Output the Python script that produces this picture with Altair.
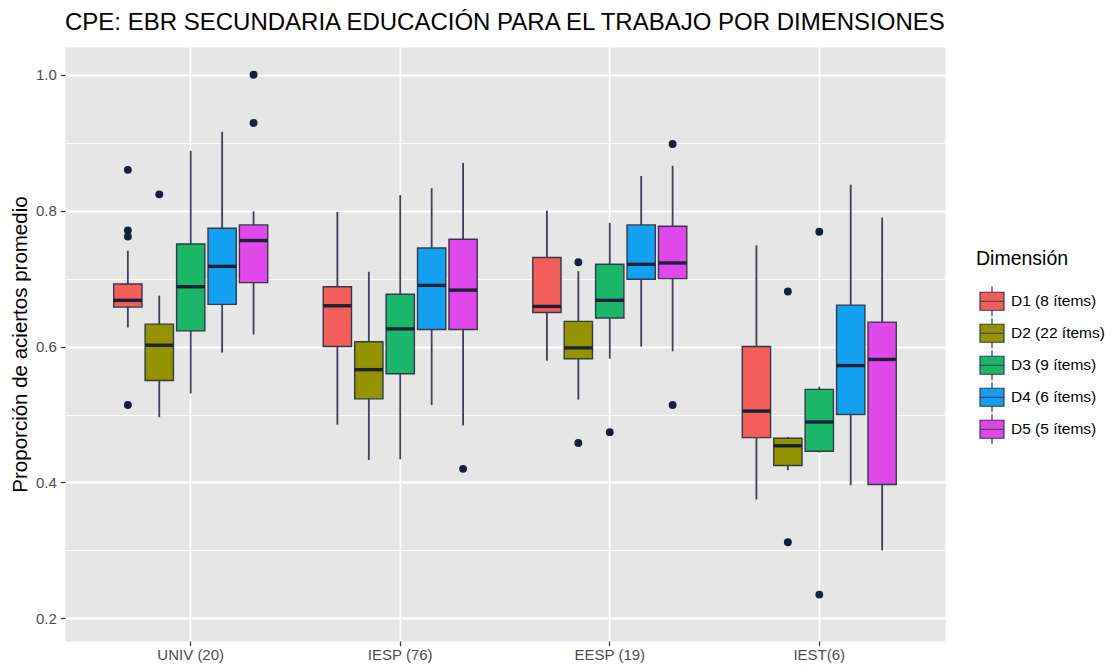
import altair as alt
import pandas as pd

groups = ["UNIV (20)", "IESP (76)", "EESP (19)", "IEST(6)"]
dims = ["D1 (8 ítems)", "D2 (22 ítems)", "D3 (9 ítems)", "D4 (6 ítems)", "D5 (5 ítems)"]
colors = ["#F35E5A", "#949400", "#1CB66A", "#14A0F0", "#E048EC"]

# per group, per dimension (D1..D5)
whisker_low = [0.628, 0.496, 0.531, 0.591, 0.618,
               0.485, 0.433, 0.434, 0.514, 0.484,
               0.579, 0.522, 0.582, 0.600, 0.593,
               0.375, 0.418, 0.444, 0.396, 0.300]
q1 = [0.658, 0.550, 0.623, 0.662, 0.694,
      0.600, 0.523, 0.560, 0.625, 0.625,
      0.650, 0.582, 0.642, 0.699, 0.700,
      0.466, 0.425, 0.446, 0.500, 0.397]
median = [0.668, 0.602, 0.688, 0.718, 0.756,
          0.660, 0.566, 0.626, 0.690, 0.683,
          0.659, 0.598, 0.668, 0.721, 0.723,
          0.505, 0.454, 0.489, 0.572, 0.581]
q3 = [0.692, 0.633, 0.751, 0.774, 0.779,
      0.688, 0.607, 0.677, 0.745, 0.758,
      0.731, 0.637, 0.721, 0.779, 0.777,
      0.600, 0.465, 0.537, 0.661, 0.636]
whisker_high = [0.741, 0.675, 0.888, 0.916, 0.799,
                0.798, 0.710, 0.823, 0.833, 0.870,
                0.800, 0.711, 0.782, 0.851, 0.866,
                0.749, 0.467, 0.541, 0.838, 0.790]

outlier_group = ["UNIV (20)"] * 7 + ["IESP (76)"] + ["EESP (19)"] * 5 + ["IEST(6)"] * 4
outlier_dim = [dims[0], dims[0], dims[0], dims[0], dims[1], dims[4], dims[4],
               dims[4],
               dims[1], dims[1], dims[2], dims[4], dims[4],
               dims[1], dims[1], dims[2], dims[2]]
outlier_value = [0.860, 0.771, 0.762, 0.514, 0.824, 1.000, 0.929,
                 0.420,
                 0.724, 0.458, 0.474, 0.898, 0.514,
                 0.681, 0.312, 0.769, 0.235]

rows = []
for i in range(len(q1)):
    rows.append({
        "group": groups[i // 5], "dim": dims[i % 5],
        "lo": whisker_low[i], "q1": q1[i], "med": median[i],
        "q3": q3[i], "hi": whisker_high[i],
    })
box = pd.DataFrame(rows)
out = pd.DataFrame({"group": outlier_group, "dim": outlier_dim, "v": outlier_value})

FONT = "Liberation Sans"
major = "round(datum.value*10) % 2 == 0"

x_enc = alt.X(
    "group:N",
    sort=groups,
    scale=alt.Scale(domain=groups, paddingInner=0.25, paddingOuter=0.225),
    axis=alt.Axis(
        title=None, labelFontSize=15, labelColor="#4D4D4D", labelFont=FONT,
        tickSize=4.7, tickWidth=1.2, tickColor="#333333", labelPadding=2,
        domain=False, grid=True, gridColor="white", gridWidth=1.8,
        bandPosition=0.5, labelAngle=0,
    ),
)
xoff = alt.XOffset("dim:N", scale=alt.Scale(domain=dims, paddingInner=0.1, paddingOuter=0.05))
y_scale = alt.Scale(domain=[0.1667, 1.0408], nice=False, zero=False)
y_axis = alt.Axis(
    values=[0.2, 0.3, 0.4, 0.5, 0.6, 0.7, 0.8, 0.9, 1.0],
    labelExpr=f"{major} ? format(datum.value, '.1f') : ''",
    title="Proporción de aciertos promedio",
    titleFontSize=20.5, titleFontWeight="normal", titleColor="black", titleFont=FONT,
    titleX=-45, titleY=297, titleBaseline="middle", titleAlign="center", titleAngle=-90,
    labelFontSize=15, labelColor="#4D4D4D", labelFont=FONT, labelPadding=4,
    tickSize=4.7, tickWidth=1.2,
    tickColor={"condition": {"test": major, "value": "#333333"}, "value": "transparent"},
    domain=False, grid=True, gridColor="white",
    gridWidth={"condition": {"test": major, "value": 1.8}, "value": 0.9},
)

whiskers = alt.Chart(box).mark_rule(color="#3A4254", strokeWidth=1.8).encode(
    x=x_enc, xOffset=xoff,
    y=alt.Y("lo:Q", scale=y_scale, axis=y_axis),
    y2="hi:Q",
)

legend_path = "M-0.8,-0.6H0.8V0.6H-0.8Z M-0.8,0H0.8 M0,-0.6V-1 M0,0.6V1"
boxes = alt.Chart(box).mark_bar(stroke="#333A4A", strokeWidth=1.4, opacity=1).encode(
    x=x_enc, xOffset=xoff,
    y=alt.Y("q1:Q", scale=y_scale),
    y2="q3:Q",
    color=alt.Color(
        "dim:N",
        scale=alt.Scale(domain=dims, range=colors),
        legend=alt.Legend(
            title="Dimensión", orient="none", legendX=911, legendY=203,
            titleFontSize=19.5, titleFontWeight="normal", titleColor="black", titleFont=FONT,
            labelFontSize=15.5, labelColor="black", labelFont=FONT,
            symbolType=legend_path, symbolSize=900,
            symbolStrokeColor="#333A4A", symbolStrokeWidth=1.2, symbolOpacity=1,
            rowPadding=0, clipHeight=31.5, labelOffset=3, titlePadding=16,
        ),
    ),
)

medians = alt.Chart(box).mark_tick(color="#1B2238", size=28.3, thickness=3.4, opacity=1).encode(
    x=x_enc, xOffset=xoff,
    y=alt.Y("med:Q", scale=y_scale),
)

outliers = alt.Chart(out).mark_circle(color="#16203A", size=62, opacity=1).encode(
    x=x_enc, xOffset=xoff,
    y=alt.Y("v:Q", scale=y_scale),
)

chart = alt.layer(whiskers, boxes, medians, outliers).properties(
    width=880, height=594,
    title=alt.Title(
        "CPE: EBR SECUNDARIA EDUCACIÓN PARA EL TRABAJO POR DIMENSIONES",
        anchor="start", frame="group", fontSize=24, font=FONT,
        fontWeight="normal", color="black", baseline="alphabetic", offset=16, dy=23,
    ),
    autosize=alt.AutoSizeParams(type="none"),
    padding={"left": 57, "top": 39, "right": 162, "bottom": 22},
    background="white",
).configure_view(fill="#E6E6E6", stroke="transparent")

chart.save("out.html", embed_options={"renderer": "svg", "actions": False})
